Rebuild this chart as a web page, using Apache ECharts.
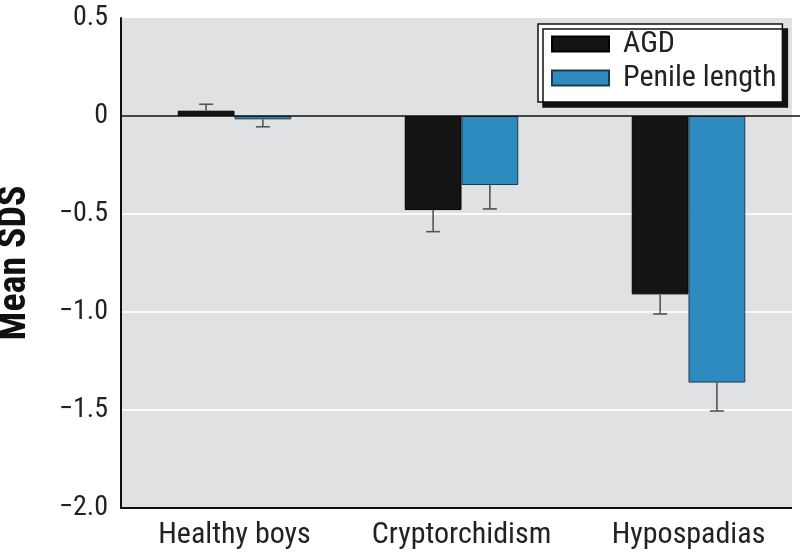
<!DOCTYPE html>
<html><head><meta charset="utf-8">
<script src="https://cdn.jsdelivr.net/npm/echarts@6/dist/echarts.min.js"></script>
<style>html,body{margin:0;padding:0;background:#fff}#c{width:800px;height:559px}</style>
</head><body><div id="c"></div>
<script>
const categories = ['Healthy boys', 'Cryptorchidism', 'Hypospadias'];
const agd = [0.027, -0.48, -0.91];
const agdErr = [0.033, 0.11, 0.10];
const penile = [-0.017, -0.352, -1.36];
const penileErr = [0.038, 0.122, 0.145];
const yTicks = {'0.5':'0.5','0':'0','-0.5':'\u22120.5','-1':'\u22121.0','-1.5':'\u22121.5','-2':'\u22122.0'};

const FONT = '"Roboto Condensed", Roboto, sans-serif';
const chart = echarts.init(document.getElementById('c'));

function errItem(sideSign) {
  return function (params, api) {
    const i = api.value(0);
    const v = api.value(1);
    const e = api.value(2);
    const dir = v >= 0 ? 1 : -1;
    const band = api.size([1, 0])[0];
    const off = sideSign * band * 0.125;
    const p0 = api.coord([i, v]);
    const p1 = api.coord([i, v + dir * e]);
    const x = p0[0] + off;
    const cap = 7;
    const style = {stroke: '#555', lineWidth: 1.6};
    return {type: 'group', children: [
      {type: 'line', shape: {x1: x, y1: p0[1], x2: x, y2: p1[1]}, style: style},
      {type: 'line', shape: {x1: x - cap, y1: p1[1], x2: x + cap, y2: p1[1]}, style: style}
    ]};
  };
}

chart.setOption({
  animation: false,
  grid: {left: 121, right: -2, top: 18, bottom: 51, show: true, backgroundColor: '#e0e1e2', borderWidth: 0,
    containLabel: false, outerBoundsMode: 'none'},
  legend: {
    orient: 'vertical', left: 538, top: 24,
    itemWidth: 57, itemHeight: 15, itemGap: 4,
    padding: [5, 6, 9, 13],
    backgroundColor: '#fff', borderColor: '#111', borderWidth: 1.5,
    shadowColor: '#111', shadowOffsetX: 5, shadowOffsetY: 5, shadowBlur: 0,
    textStyle: {fontFamily: FONT, fontSize: 30, lineHeight: 30, color: '#222', padding: [0, 0, 0, 9]},
    data: [{name: 'AGD', icon: 'rect'}, {name: 'Penile length', icon: 'rect'}]
  },
  xAxis: {
    type: 'category', data: categories,
    axisLine: {show: true, onZero: false, lineStyle: {color: '#111', width: 2}},
    axisTick: {show: false},
    axisLabel: {fontFamily: FONT, fontSize: 30, color: '#222', margin: 12, interval: 0, hideOverlap: false}
  },
  yAxis: {
    type: 'value', min: -2, max: 0.5, interval: 0.5,
    name: 'Mean SDS', nameLocation: 'middle', nameGap: 87,
    nameTextStyle: {fontFamily: FONT, fontSize: 38, fontWeight: 'bold', color: '#111'},
    axisLine: {show: true, lineStyle: {color: '#111', width: 2}},
    axisTick: {show: false},
    axisLabel: {fontFamily: FONT, fontSize: 28, color: '#222', margin: 13,
      formatter: v => yTicks[String(v)] !== undefined ? yTicks[String(v)] : String(v)},
    splitLine: {show: true, lineStyle: {color: ['none', '#fafafa', '#fafafa', '#fafafa', 'none', 'none'], width: 2}}
  },
  series: [
    {name: 'AGD', type: 'bar', data: agd, barWidth: '25%', barGap: '0%',
      itemStyle: {color: '#141414', borderColor: '#000', borderWidth: 1},
      markLine: {silent: true, symbol: 'none', label: {show: false},
        lineStyle: {color: '#111', width: 1.6, type: 'solid'}, data: [{yAxis: 0}]}},
    {name: 'Penile length', type: 'bar', data: penile, barWidth: '25%', barGap: '0%',
      itemStyle: {color: '#2e8bc0', borderColor: '#1e3a4a', borderWidth: 1}},
    {type: 'custom', name: 'agdErr', renderItem: errItem(-1), z: 5,
      data: agd.map((v, i) => [i, v, agdErr[i]])},
    {type: 'custom', name: 'penErr', renderItem: errItem(1), z: 5,
      data: penile.map((v, i) => [i, v, penileErr[i]])}
  ],
  graphic: [{type: 'rect', left: 792, top: 0, shape: {width: 10, height: 510}, style: {fill: '#fff'}, z: 1}]
});
</script></body></html>
